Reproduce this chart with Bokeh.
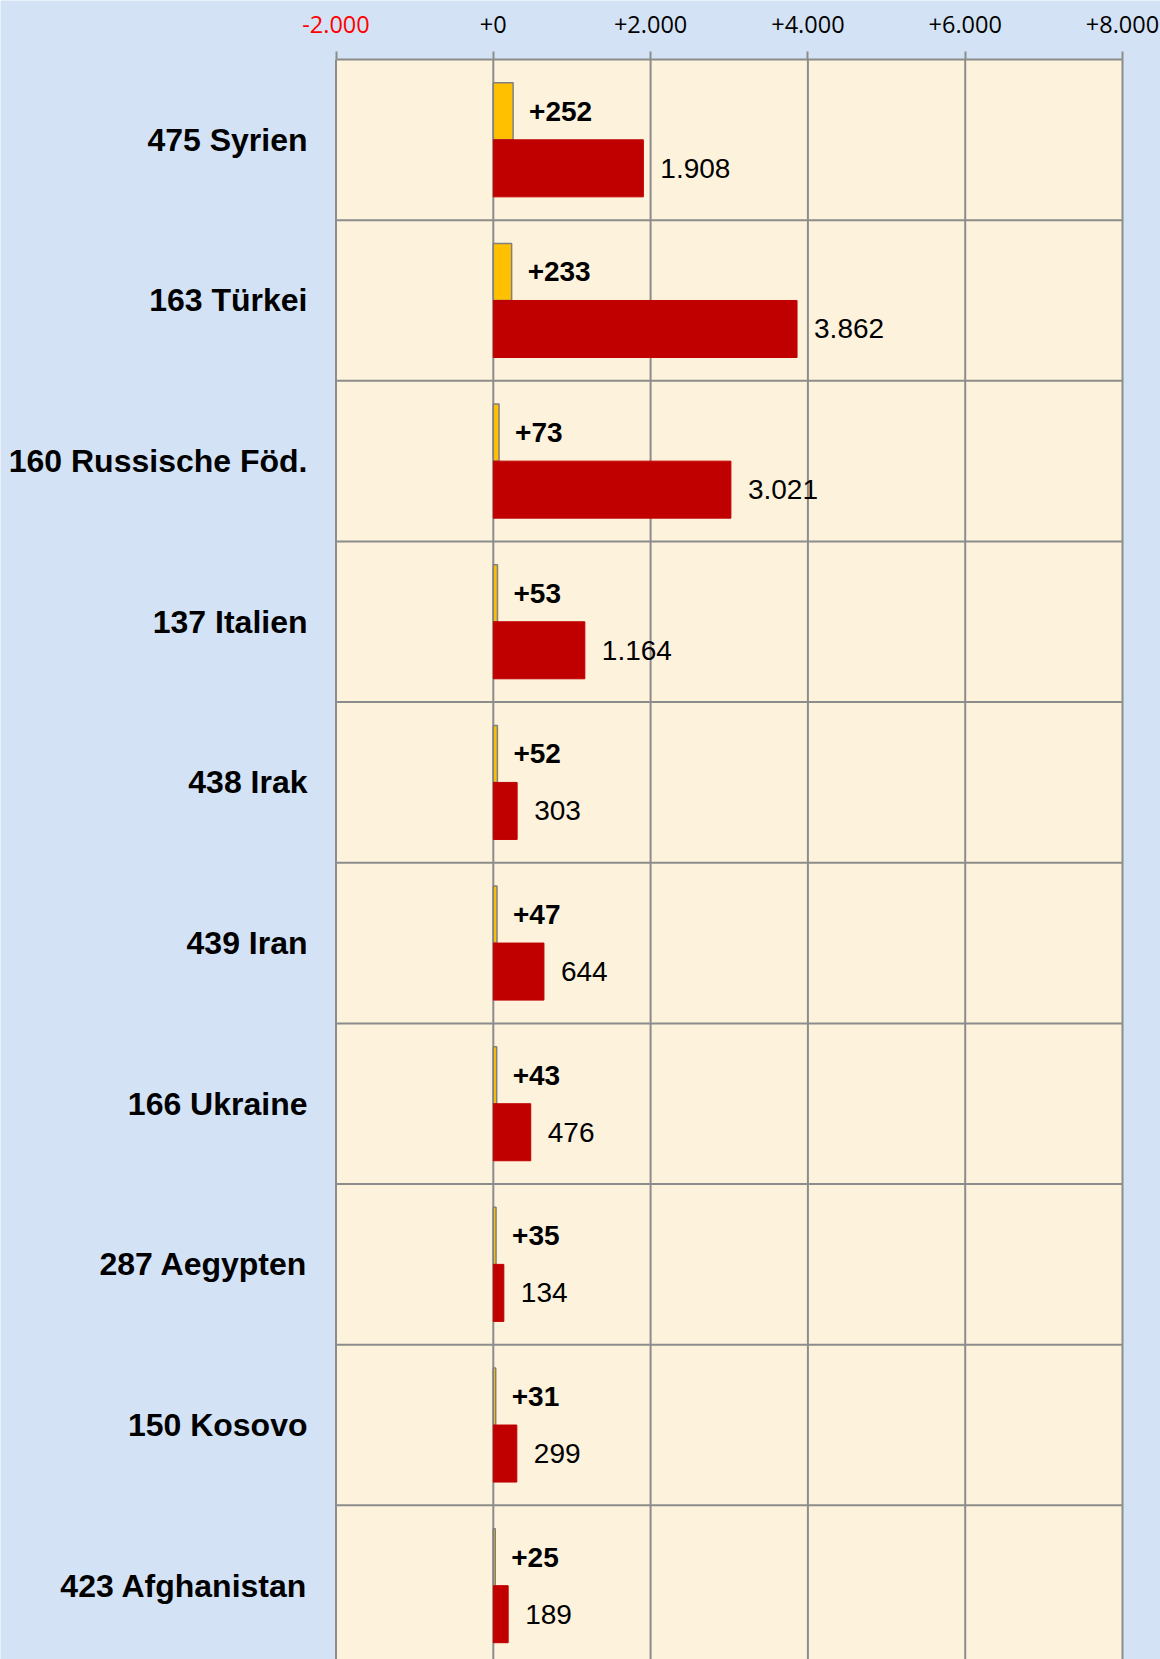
from bokeh.plotting import figure
from bokeh.models import Range1d, FixedTicker, LinearAxis, BoxAnnotation, ColumnDataSource
from bokeh.core.properties import value
from bokeh.embed import file_html
from bokeh.resources import INLINE

countries = ["475 Syrien", "163 Türkei", "160 Russische Föd.", "137 Italien", "438 Irak",
             "439 Iran", "166 Ukraine", "287 Aegypten", "150 Kosovo", "423 Afghanistan"]
change = [252, 233, 73, 53, 52, 47, 43, 35, 31, 25]
totals = [1908, 3862, 3021, 1164, 303, 644, 476, 134, 299, 189]
x_ticks = [-2000, 0, 2000, 4000, 6000, 8000]
x_tick_labels = ["-2.000", "+0", "+2.000", "+4.000", "+6.000", "+8.000"]

BLUE = "#D3E3F5"
CREAM = "#FDF2DC"
GRID = "#8C8C8C"

W, H = 1160, 1659
PLOT_L, PLOT_R = 335.5, 1122.0  # pixel positions of -2000 and 8000
PLOT_T = 59.0                   # top border of the plot area (px)
ROW = 160.65                    # row height (px)
LABEL_AXIS_PX = 320.0           # where the category axis sits (px)

ppu = (PLOT_R - PLOT_L) / (x_ticks[-1] - x_ticks[0])
x_start = x_ticks[0] - PLOT_L / ppu
x_end = x_ticks[-1] + (W - PLOT_R) / ppu
y_top = -0.5 - PLOT_T / ROW
y_bot = y_top + H / ROW
x_label_axis = x_start + LABEL_AXIS_PX / ppu

def de(v):
    return f"{v:,}".replace(",", ".")

n = len(countries)
idx = list(range(n))
bar_h = 0.355

src = ColumnDataSource(dict(
    yc=[i - bar_h / 2 for i in idx],
    yt=[i + bar_h / 2 for i in idx],
    change=change,
    totals=totals,
    clab=["+" + de(v) for v in change],
    tlab=[de(v) for v in totals],
))

p = figure(width=W, height=H, output_backend="svg", toolbar_location=None,
           x_range=Range1d(x_start, x_end), y_range=Range1d(y_bot, y_top),
           x_axis_location=None, y_axis_location=None,
           min_border_left=0, min_border_right=0, min_border_top=0, min_border_bottom=0)
p.background_fill_color = BLUE
p.border_fill_color = BLUE
p.outline_line_color = None
p.xgrid.grid_line_color = None
p.ygrid.grid_line_color = None

# cream plot area
p.add_layout(BoxAnnotation(left=x_ticks[0], right=x_ticks[-1], top=-0.5, bottom=y_bot,
                           fill_color=CREAM, fill_alpha=1, line_color=None, level="underlay"))

# vertical grid lines (incl. left and right borders)
p.segment(x0=x_ticks, y0=[-0.5] * len(x_ticks), x1=x_ticks, y1=[y_bot] * len(x_ticks),
          line_color=GRID, line_width=2)
# horizontal row separators
seps = [i + 0.5 for i in idx[:-1]]
p.segment(x0=[x_ticks[0]] * len(seps), y0=seps, x1=[x_ticks[-1]] * len(seps), y1=seps,
          line_color=GRID, line_width=2)

TICK_FONT = "Open Sans"
TICK_SIZE = "23.5px"
STANDOFF = 19
TICK_OUT = 8

# top axis at the top border of the plot area (black labels)
xa = LinearAxis(fixed_location=-0.5, bounds=(x_ticks[0], x_ticks[-1]),
                ticker=FixedTicker(ticks=x_ticks),
                major_label_overrides={t: (lab if t != x_ticks[0] else "")
                                       for t, lab in zip(x_ticks, x_tick_labels)})
xa.major_label_text_font = TICK_FONT
xa.major_label_text_font_size = TICK_SIZE
xa.major_label_text_color = "black"
xa.major_label_standoff = STANDOFF
xa.major_tick_out = TICK_OUT
xa.major_tick_in = 0
xa.minor_tick_out = 0
xa.minor_tick_in = 0
xa.major_tick_line_color = GRID
xa.major_tick_line_width = 2
xa.axis_line_color = GRID
xa.axis_line_width = 2
p.add_layout(xa, "above")

# the negative tick label in red
xr = LinearAxis(fixed_location=-0.5, ticker=FixedTicker(ticks=[x_ticks[0]]),
                major_label_overrides={x_ticks[0]: x_tick_labels[0]})
xr.major_label_text_font = TICK_FONT
xr.major_label_text_font_size = TICK_SIZE
xr.major_label_text_color = "#FF0000"
xr.major_label_standoff = STANDOFF
xr.major_tick_out = TICK_OUT
xr.major_tick_in = 0
xr.minor_tick_out = 0
xr.minor_tick_in = 0
xr.major_tick_line_color = None
xr.minor_tick_line_color = None
xr.axis_line_color = None
p.add_layout(xr, "above")

# category axis with the country names
ya = LinearAxis(fixed_location=x_label_axis, ticker=FixedTicker(ticks=idx),
                major_label_overrides={i: c for i, c in zip(idx, countries)})
ya.major_label_text_font = "Liberation Sans"
ya.major_label_text_font_style = "bold"
ya.major_label_text_font_size = "32px"
ya.major_label_text_color = "black"
ya.major_label_standoff = 13
ya.major_tick_out = 0
ya.major_tick_in = 0
ya.minor_tick_out = 0
ya.minor_tick_in = 0
ya.major_tick_line_color = None
ya.minor_tick_line_color = None
ya.axis_line_color = None
p.add_layout(ya, "left")

# bars
p.hbar(y="yc", left=0, right="change", height=bar_h, source=src,
       fill_color="#FFC000", line_color="#808080", line_width=1.5)
p.hbar(y="yt", left=0, right="totals", height=bar_h, source=src,
       fill_color="#C00000", line_color="#C00000", line_width=1)

p.text(x="change", y="yc", text="clab", source=src, x_offset=16,
       text_font=value("Liberation Sans"), text_font_style="bold", text_font_size="28px",
       text_align="left", text_baseline="middle", text_color="black")
p.text(x="totals", y="yt", text="tlab", source=src, x_offset=17,
       text_font=value("Liberation Sans"), text_font_size="28px",
       text_align="left", text_baseline="middle", text_color="black")

open("out.html", "w").write(file_html(p, INLINE))
